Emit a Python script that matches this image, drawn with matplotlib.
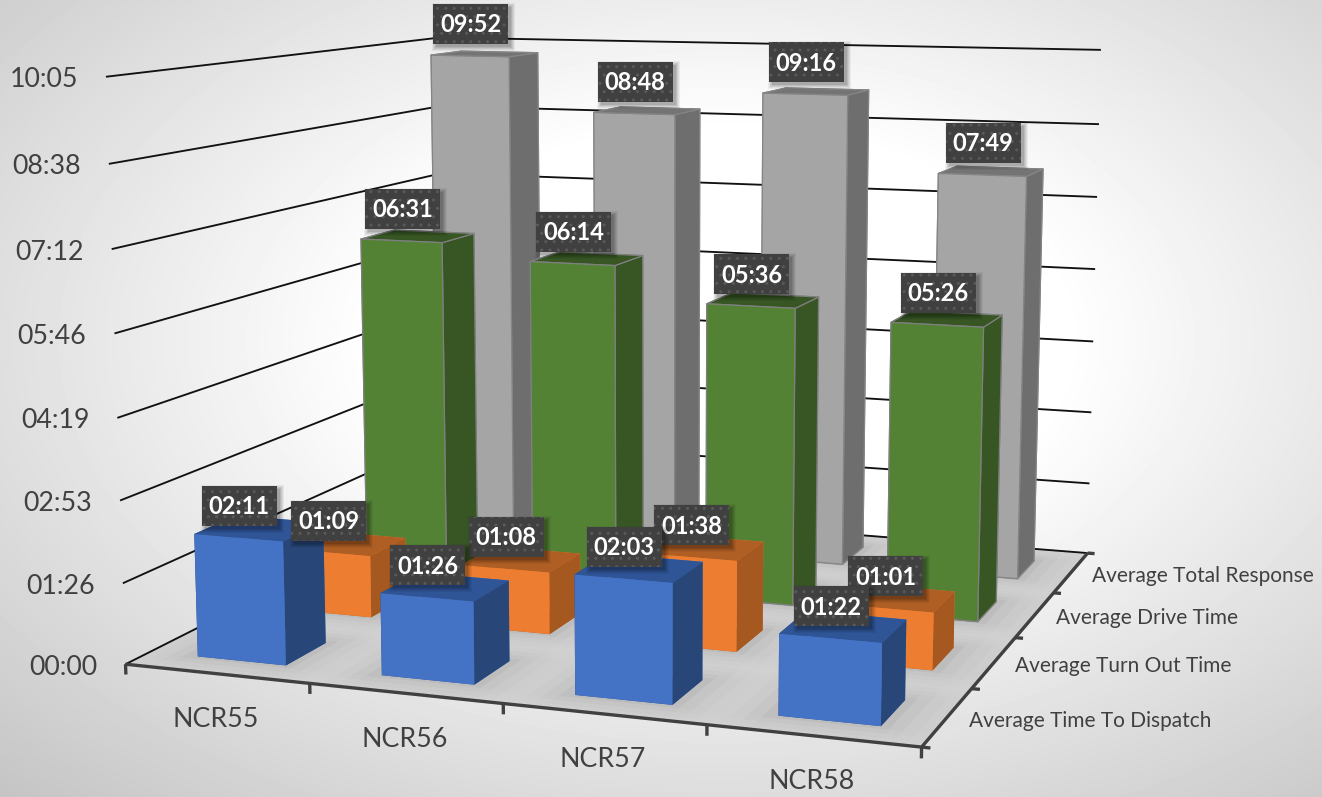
import numpy as np
import matplotlib
matplotlib.use('Agg')
import matplotlib.pyplot as plt
from matplotlib.patches import Rectangle
from matplotlib.transforms import IdentityTransform
from mpl_toolkits.mplot3d.art3d import Poly3DCollection, Line3DCollection

categories = ['NCR55', 'NCR56', 'NCR57', 'NCR58']
series = ['Average Time To Dispatch', 'Average Turn Out Time', 'Average Drive Time', 'Average Total Response']
dispatch = ['02:11', '01:26', '02:03', '01:22']
turn_out = ['01:09', '01:08', '01:38', '01:01']
drive = ['06:31', '06:14', '05:36', '05:26']
total = ['09:52', '08:48', '09:16', '07:49']
z_ticks = ['00:00', '01:26', '02:53', '04:19', '05:46', '07:12', '08:38', '10:05']

W, H = 1322, 797
plt.rcParams['font.family'] = ['Lato', 'DejaVu Sans']
px = IdentityTransform()


def secs(t):
    m, s = t.split(':')
    return int(m) * 60 + int(s)


z_vals = [secs(t) for t in z_ticks]
z_top = z_vals[-1]

# camera: solved from where the plot box corners sit in the picture
box = [(0, 0, 0, 126, 665), (4, 0, 0, 921, 747), (4, 4, 0, 1088, 553), (0, 4, 0, 446, 502),
       (0, 0, z_top, 106, 76), (4, 4, z_top, 1101, 50), (0, 4, z_top, 440, 38)]
rows = []
for x, y, z, u, v in box:
    p = [x, y, z / z_top, 1]
    rows.append(p + [0, 0, 0, 0] + [-u / 1000 * c for c in p])
    rows.append([0, 0, 0, 0] + p + [-v / 1000 * c for c in p])
P = np.linalg.svd(np.array(rows))[2][-1].reshape(3, 4)
P[:, 2] /= z_top
P[:2] *= 1000
P /= P[2, 3]


def to_px(x, y, z):
    u, v, w = P @ np.array([x, y, z, 1.0])
    return u / w, v / w


fig = plt.figure(figsize=(W / 100, H / 100), dpi=100)

# background shading
bg = fig.add_axes([0, 0, 1, 1], zorder=0)
gx, gy = np.meshgrid(np.arange(W), np.arange(H))
r = np.sqrt(((gx - 720) / 690) ** 2 + ((gy - 340) / 420) ** 2)
bg.imshow(1 - 0.23 * np.clip(r - 0.5, 0, 1), cmap='gray', vmin=0, vmax=1, aspect='auto')
bg.axis('off')

ax = fig.add_axes([0, 0, 1, 1], projection='3d', computed_zorder=False, zorder=1)
ax.patch.set_alpha(0)
ax.set_axis_off()
ax.apply_aspect = lambda position=None: None


def get_proj():
    A = ax.transData.inverted().get_matrix()
    row_u = P[0]
    row_v = H * P[2] - P[1]
    M = np.zeros((4, 4))
    M[0] = A[0, 0] * row_u + A[0, 1] * row_v + A[0, 2] * P[2]
    M[1] = A[1, 0] * row_u + A[1, 1] * row_v + A[1, 2] * P[2]
    M[2] = P[2] - np.array([0, 0, 0, 0.5])
    M[3] = P[2]
    return M


ax.get_proj = get_proj

bar_x0, bar_w = 0.265, 0.485
bar_y0, bar_d = 0.25, 0.45

# floor, a bit darker around the feet of the bars
edges = np.linspace(0, 4, 61)
cells, tones = [], []
for i in range(60):
    for j in range(60):
        cx, cy = (edges[i] + edges[i + 1]) / 2, (edges[j] + edges[j + 1]) / 2
        dx = np.abs((cx % 1) - (bar_x0 + bar_w / 2)) - bar_w / 2
        dy = np.abs((cy % 1) - (bar_y0 + bar_d / 2)) - bar_d / 2
        d = np.hypot(max(dx, 0), max(dy, 0))
        tone = (212 - 26 * np.exp(-d / 0.16)) / 255
        cells.append([(edges[i], edges[j], 0), (edges[i + 1], edges[j], 0),
                      (edges[i + 1], edges[j + 1], 0), (edges[i], edges[j + 1], 0)])
        tones.append((tone, tone, tone, 1))
ax.add_collection3d(Poly3DCollection(cells, facecolors=tones, edgecolors=tones, linewidths=0.8, zorder=1))

# gridlines on the two walls
grid = [[(0, 0, z), (0, 4, z), (4, 4, z)] for z in z_vals]
ax.add_collection3d(Line3DCollection(grid, colors='#111111', linewidths=1.35, zorder=2), autolim=False)

# axis lines and ticks
dark = '#404040'
axis_lines = [[(0, 0, 0), (4, 0, 0), (4, 4, 0)]]
for k in range(5):
    axis_lines.append([(k, 0, 0), (k, 0, -11)])
    axis_lines.append([(4, k, 0), (4.04, k, 0)])
ax.add_collection3d(Line3DCollection(axis_lines, colors=dark, linewidths=2.4, zorder=3), autolim=False)

# bars, back row first
rows_back = [
    (3, total, '#A5A5A5', '#6E6E6E', '#747474', '#858585'),
    (2, drive, '#548235', '#375623', '#375623', '#7F7F7F'),
    (1, turn_out, '#ED7D31', '#A5581F', '#B05F24', 'none'),
    (0, dispatch, '#4472C4', '#284678', '#2F5597', 'none'),
]
order = 10
for iy, values, front, side, top, edge in rows_back:
    heights = [secs(t) for t in values]
    xs = np.arange(4) + bar_x0
    ys = np.full(4, iy + bar_y0)
    faces = [top, top, front, front, side, side] * 4
    ax.bar3d(xs, ys, np.zeros(4), bar_w, bar_d, heights, color=faces, shade=False,
             edgecolor=edge, linewidth=0.9, zorder=order)
    order += 1

# value labels, placed above the middle of each bar's front top edge
box_w, box_h = 75, 40
order = 3
for iy, values, *_ in rows_back:
    for ix, t in enumerate(values):
        u, v = to_px(ix + bar_x0 + bar_w / 2, iy + bar_y0, secs(t))
        u, v = u + 1, H - v + 12
        for grow, a in [(4, 0.05), (3, 0.06), (2, 0.07), (1, 0.08), (0, 0.1)]:
            fig.add_artist(Rectangle((u - box_w / 2 + 3 - grow, v - 3 - grow), box_w + 2 * grow, box_h + 2 * grow,
                                     fc='black', ec='none', alpha=a, transform=px, zorder=order))
        fig.add_artist(Rectangle((u - box_w / 2, v), box_w, box_h, fc='#404040', ec='#595959', lw=0, hatch='..',
                                 transform=px, zorder=order + 0.1))
        fig.text(u, v + box_h / 2 - 1, t, color='white', fontsize=17, fontweight='bold', ha='center', va='center',
                 transform=px, zorder=order + 0.2)
        order += 1

# axis text
for t, z in zip(z_ticks, z_vals):
    u, v = to_px(0, 0, z)
    fig.text(u - 28, H - v - 3, t, color=dark, fontsize=19.3, ha='right', va='center', transform=px, zorder=2)
for k, c in enumerate(categories):
    u, v = to_px(k + 0.5, 0, 0)
    fig.text(u - 1, H - v - 46, c, color=dark, fontsize=19.3, ha='center', va='center', transform=px, zorder=2)
for k, s in enumerate(series):
    u, v = to_px(4, k + 0.5, 0)
    fig.text(u + 21, H - v - 4, s, color=dark, fontsize=15, ha='left', va='center', transform=px, zorder=2)

fig.savefig('out.png', dpi=100)
